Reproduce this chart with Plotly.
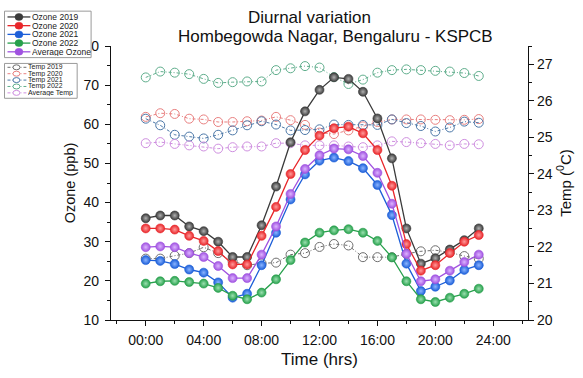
import plotly.graph_objects as go

hours = list(range(24))

ozone_names = ["Ozone 2019", "Ozone 2020", "Ozone 2021", "Ozone 2022", "Average Ozone"]
ozone_2019 = [36.0, 36.7, 36.7, 33.9, 32.7, 30.0, 26.1, 26.1, 34.2, 44.1, 55.4, 63.3, 68.8, 72.0, 71.6, 68.3, 61.5, 51.3, 33.4, 24.4, 25.8, 28.0, 30.4, 33.4]
ozone_2020 = [33.4, 33.4, 33.1, 31.5, 30.2, 27.6, 24.2, 24.2, 31.5, 38.9, 47.3, 53.4, 57.1, 59.0, 59.4, 57.7, 53.4, 44.3, 29.4, 22.6, 24.0, 27.1, 30.0, 31.7]
ozone_2021 = [25.3, 25.1, 24.3, 22.9, 22.1, 19.6, 15.7, 16.7, 24.0, 32.3, 40.8, 47.2, 50.7, 51.5, 50.6, 48.8, 44.5, 36.8, 24.4, 17.4, 18.5, 20.1, 22.8, 24.0]
ozone_2022 = [19.3, 19.9, 20.0, 19.7, 19.3, 18.2, 16.2, 15.3, 17.0, 20.4, 25.3, 29.8, 32.3, 32.9, 33.2, 32.3, 30.2, 26.0, 19.9, 15.3, 14.6, 15.7, 16.7, 18.0]
ozone_avg = [28.6, 28.8, 28.6, 27.1, 26.1, 23.8, 20.7, 20.7, 26.7, 33.9, 42.2, 48.6, 52.1, 53.8, 53.6, 51.9, 47.6, 39.7, 26.9, 19.9, 20.4, 22.6, 24.8, 26.7]

temp_names = ["Temp 2019", "Temp 2020", "Temp 2021", "Temp 2022", "Average Temp"]
temp_2019 = [21.68, 21.68, 21.76, 21.83, 21.99, 21.83, 21.6, 21.5, 21.55, 21.57, 21.79, 21.83, 22.0, 22.08, 22.04, 21.72, 21.72, 21.72, 21.81, 21.88, 21.91, 21.85, 21.75, 21.68]
temp_2020 = [25.56, 25.66, 25.64, 25.51, 25.49, 25.42, 25.42, 25.44, 25.46, 25.56, 25.47, 25.34, 25.13, 25.09, 25.19, 25.3, 25.42, 25.49, 25.49, 25.49, 25.48, 25.47, 25.48, 25.5]
temp_2021 = [25.51, 25.33, 25.07, 25.02, 24.97, 25.07, 25.19, 25.33, 25.44, 25.35, 25.19, 25.2, 25.22, 25.35, 25.34, 25.34, 25.34, 25.49, 25.39, 25.31, 25.16, 25.27, 25.43, 25.40]
temp_2022 = [26.64, 26.80, 26.77, 26.73, 26.60, 26.49, 26.51, 26.53, 26.53, 26.84, 26.89, 26.95, 26.91, 26.65, 26.46, 26.58, 26.77, 26.84, 26.86, 26.84, 26.82, 26.80, 26.76, 26.68]
temp_avg = [24.84, 24.87, 24.82, 24.78, 24.75, 24.69, 24.73, 24.75, 24.75, 24.84, 24.84, 24.78, 24.78, 24.78, 24.75, 24.73, 24.78, 24.89, 24.87, 24.84, 24.82, 24.78, 24.82, 24.81]

x_tick_vals = [0, 4, 8, 12, 16, 20, 24]
x_tick_text = ["00:00", "04:00", "08:00", "12:00", "16:00", "20:00", "24:00"]

ozone_series = [ozone_2019, ozone_2020, ozone_2021, ozone_2022, ozone_avg]
temp_series = [temp_2019, temp_2020, temp_2021, temp_2022, temp_avg]
ozone_colors = ["#3a3a3a", "#e8262a", "#1d5fd8", "#27a04c", "#a052e0"]
ozone_light = ["#b0b0b0", "#ff9a9a", "#8ab4ff", "#9be0b0", "#dcb4ff"]
temp_colors = ["#6e6e6e", "#e98080", "#4c78a8", "#5fae8c", "#cf8fe0"]

FONT = "Arial, 'Liberation Sans', sans-serif"

fig = go.Figure()

# temperature on base y axis (drawn underneath)
for name, vals, col in zip(temp_names, temp_series, temp_colors):
    fig.add_trace(go.Scatter(
        x=hours, y=vals, name=name, mode="lines+markers", yaxis="y",
        line=dict(color=col, width=1, dash="3px,2px,1px,2px"),
        marker=dict(symbol="circle-open", size=9, color=col, line=dict(width=1, color=col)),
        showlegend=False))

for name, vals, col, lc in zip(ozone_names, ozone_series, ozone_colors, ozone_light):
    fig.add_trace(go.Scatter(
        x=hours, y=vals, name=name, mode="lines+markers", yaxis="y2",
        line=dict(color=col, width=1.3),
        marker=dict(symbol="circle", size=9, color=col,
                    gradient=dict(type="radial", color=lc),
                    line=dict(width=0.6, color=col)),
        showlegend=False))

L, R, T, B = 111, 53, 46, 49
W, H = 583, 378
pw, ph = W - L - R, H - T - B

def px(x):
    return (x - L) / pw

def py(y):
    return (H - B - y) / ph

shapes = []
annotations = []

# legend boxes
shapes.append(dict(type="rect", xref="paper", yref="paper", x0=px(4), x1=px(91), y0=py(10), y1=py(58),
                   line=dict(color="#9a9a9a", width=1), fillcolor="white", layer="above"))
shapes.append(dict(type="rect", xref="paper", yref="paper", x0=px(4), x1=px(77), y0=py(64), y1=py(100),
                   line=dict(color="#9a9a9a", width=1), fillcolor="white", layer="above"))

for i, (name, col) in enumerate(zip(ozone_names, ozone_colors)):
    yy = 16 + 9 * i
    shapes.append(dict(type="line", xref="paper", yref="paper", x0=px(7), x1=px(30), y0=py(yy), y1=py(yy),
                       line=dict(color=col, width=1.3), layer="above"))
    shapes.append(dict(type="circle", xref="paper", yref="paper", xsizemode="pixel", ysizemode="pixel",
                       xanchor=px(18.5), yanchor=py(yy), x0=-4, x1=4, y0=-3.5, y1=3.5,
                       fillcolor=col, line=dict(color=col, width=0.5), layer="above"))
    annotations.append(dict(xref="paper", yref="paper", x=px(31), y=py(yy), text=name, showarrow=False,
                            xanchor="left", yanchor="middle", height=8, borderpad=0, valign="middle",
                            font=dict(family=FONT, size=8.5, color="#222")))

for i, (name, col) in enumerate(zip(temp_names, temp_colors)):
    yy = 68 + 6.6 * i
    shapes.append(dict(type="line", xref="paper", yref="paper", x0=px(7), x1=px(26), y0=py(yy), y1=py(yy),
                       line=dict(color=col, width=1, dash="3px,2px,1px,2px"), layer="above"))
    shapes.append(dict(type="circle", xref="paper", yref="paper", xsizemode="pixel", ysizemode="pixel",
                       xanchor=px(16), yanchor=py(yy), x0=-3.5, x1=3.5, y0=-2.5, y1=2.5,
                       fillcolor="white", line=dict(color=col, width=1), layer="above"))
    annotations.append(dict(xref="paper", yref="paper", x=px(26.5), y=py(yy), text=name, showarrow=False,
                            xanchor="left", yanchor="middle", height=6, borderpad=0, valign="middle",
                            font=dict(family=FONT, size=7, color="#222")))

annotations.append(dict(xref="paper", yref="paper", x=px(310), y=py(17), text="Diurnal variation",
                        showarrow=False, xanchor="center", yanchor="middle",
                        font=dict(family=FONT, size=17, color="#111")))
annotations.append(dict(xref="paper", yref="paper", x=px(337), y=py(36), text="Hombegowda Nagar, Bengaluru - KSPCB",
                        showarrow=False, xanchor="center", yanchor="middle",
                        font=dict(family=FONT, size=17, color="#111")))

tickfont = dict(family=FONT, size=14, color="#111")
XR = [-2.4, 26.4]

fig.update_layout(
    width=W, height=H, margin=dict(l=L, r=R, t=T, b=B),
    paper_bgcolor="white", plot_bgcolor="white",
    showlegend=False,
    shapes=shapes, annotations=annotations,
    xaxis=dict(range=XR, tickvals=x_tick_vals, ticktext=x_tick_text, ticks="outside", ticklen=5,
               tickwidth=1.2, tickcolor="#111", showline=True, linecolor="#111", linewidth=1.3,
               showgrid=False, zeroline=False, tickfont=tickfont, ticklabelstandoff=2,
               minor=dict(tickvals=[-2, 2, 6, 10, 14, 18, 22, 26], ticks="outside", ticklen=3,
                          tickcolor="#111", tickwidth=1, showgrid=False),
               title=dict(text="Time (hrs)", font=dict(family=FONT, size=17, color="#111"), standoff=6)),
    xaxis2=dict(range=XR, overlaying="x", side="top", anchor="y", showticklabels=False,
                tickvals=[0, 4.8, 9.6, 14.4, 19.2, 24], ticks="inside", ticklen=5, tickwidth=1.2,
                tickcolor="#111", showline=True, linecolor="#111", linewidth=1.3, showgrid=False,
                zeroline=False,
                minor=dict(tickvals=[-2.4, 2.4, 7.2, 12, 16.8, 21.6, 26.4], ticks="inside", ticklen=3,
                           tickcolor="#111", tickwidth=1, showgrid=False)),
    yaxis=dict(range=[20, 27.5], side="right", tickvals=[20, 21, 22, 23, 24, 25, 26, 27], ticks="outside",
               ticklen=5, tickwidth=1.2, tickcolor="#111", showline=True, linecolor="#111", linewidth=1.3,
               showgrid=False, zeroline=False, tickfont=tickfont,
               minor=dict(dtick=0.5, tick0=20, ticks="outside", ticklen=3, tickcolor="#111", tickwidth=1,
                          showgrid=False),
               title=dict(text="Temp (<sup>0</sup>C)", font=dict(family=FONT, size=15, color="#111"), standoff=8)),
    yaxis2=dict(range=[10, 80], overlaying="y", side="left", anchor="x",
                tickvals=[10, 20, 30, 40, 50, 60, 70, 80], ticks="outside", ticklen=5, tickwidth=1.2,
                tickcolor="#111", showline=True, linecolor="#111", linewidth=1.3, showgrid=False,
                zeroline=False, tickfont=tickfont, ticklabelstandoff=3,
                minor=dict(dtick=5, tick0=10, ticks="outside", ticklen=3, tickcolor="#111", tickwidth=1,
                           showgrid=False),
                title=dict(text="Ozone (ppb)", font=dict(family=FONT, size=14.5, color="#111"), standoff=4)),
)

fig.write_html("out.html")
